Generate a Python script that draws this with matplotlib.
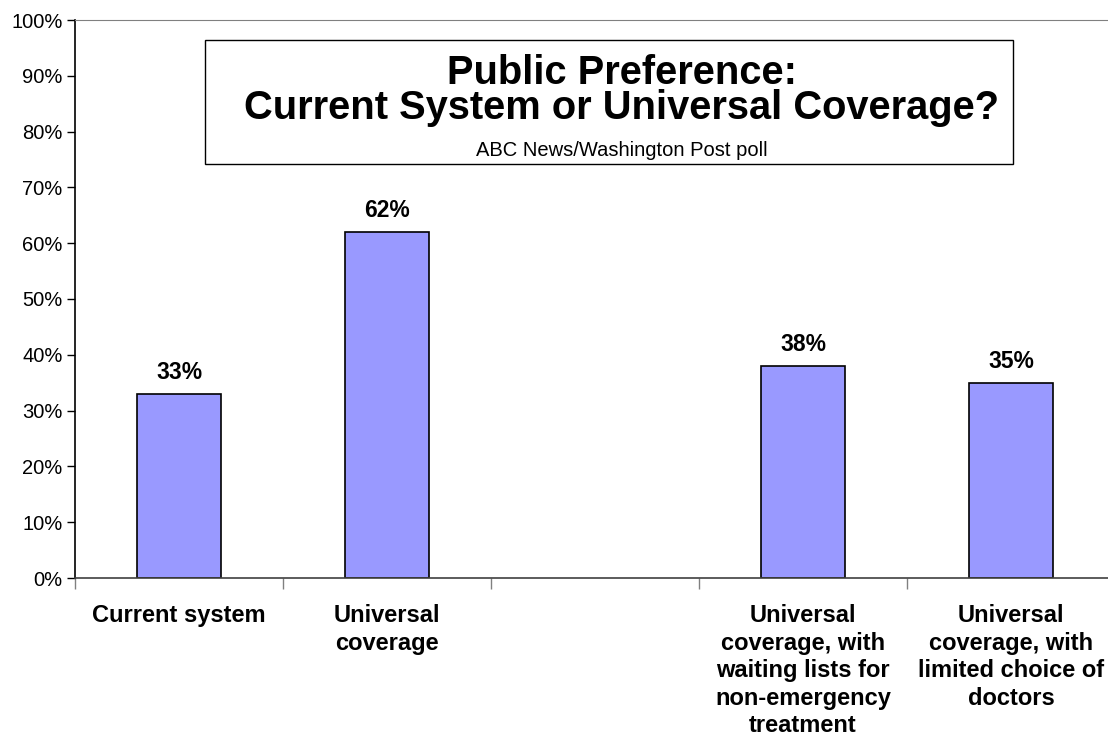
import numpy as np
import matplotlib.pyplot as plt
from matplotlib.patches import Rectangle

plt.rcParams['font.family'] = ['Liberation Sans', 'DejaVu Sans']

categories = ["Current system", "Universal\ncoverage", "",
              "Universal\ncoverage, with\nwaiting lists for\nnon-emergency\ntreatment",
              "Universal\ncoverage, with\nlimited choice of\ndoctors"]
values = [33, 62, None, 38, 35]
yticks = [0, 10, 20, 30, 40, 50, 60, 70, 80, 90, 100]

fig = plt.figure(figsize=(11.08, 7.40), dpi=100)
ax = fig.add_axes([75 / 1108, 162 / 740, 1040 / 1108, 558 / 740])

x = np.arange(len(categories)) + 0.5
for xi, v in zip(x, values):
    if v is None:
        continue
    ax.bar(xi, v, width=0.404, color="#9999FF", edgecolor="black", linewidth=1.2)
    ax.annotate(f"{v}%", (xi, v), xytext=(0, 7), textcoords="offset points",
                ha="center", va="bottom", fontsize=16.5, fontweight="bold")

ax.set_xlim(0, 5)
ax.set_ylim(0, 100)
ax.set_yticks(yticks)
ax.set_yticklabels([f"{t}%" for t in yticks], fontsize=14.5)
ax.tick_params(axis="y", length=6, width=1, pad=3)

ax.set_xticks(np.arange(6))
ax.set_xticklabels([])
ax.tick_params(axis="x", which="major", length=8, width=1, color="#808080")
ax.set_xticks(x, minor=True)
ax.set_xticklabels(categories, minor=True, fontsize=17, fontweight="bold",
                   linespacing=1.25, va="top")
ax.tick_params(axis="x", which="minor", length=0, pad=19)

ax.spines["left"].set_color("black")
ax.spines["left"].set_linewidth(1.2)
ax.spines["bottom"].set_color("#404040")
ax.spines["bottom"].set_linewidth(1.2)
ax.spines["top"].set_color("#808080")
ax.spines["right"].set_visible(False)

# title box
fig.patches.append(Rectangle((205 / 1108, 1 - 164 / 740), 808 / 1108, 124 / 740,
                             transform=fig.transFigure, facecolor="white",
                             edgecolor="black", linewidth=1, zorder=5))
cx = 622 / 1108
fig.text(cx, 1 - 73 / 740, "Public Preference:", ha="center", va="center",
         fontsize=28.7, fontweight="bold", zorder=6)
fig.text(cx, 1 - 108 / 740, "Current System or Universal Coverage?",
         ha="center", va="center", fontsize=28.7, fontweight="bold", zorder=6)
fig.text(cx, 1 - 151 / 740, "ABC News/Washington Post poll",
         ha="center", va="center", fontsize=14.5, zorder=6)

fig.savefig("out.png", dpi=100)
